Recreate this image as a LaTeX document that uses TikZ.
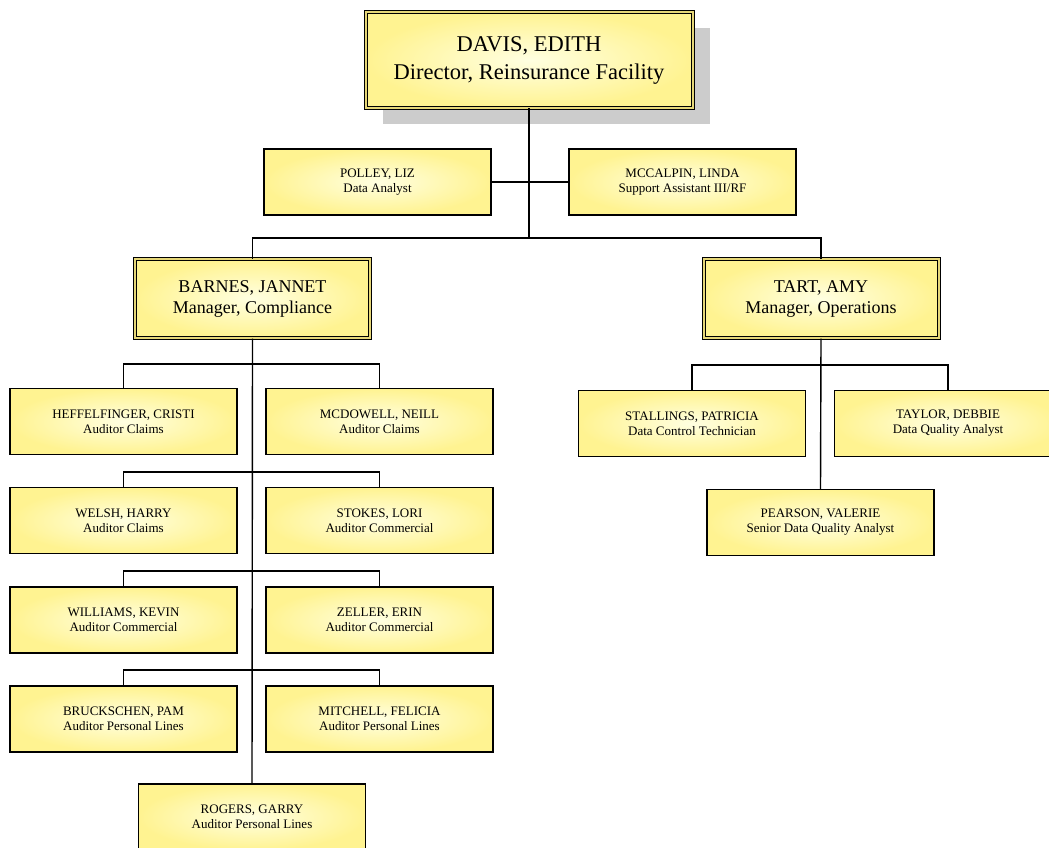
\documentclass[tikz,border=0pt]{standalone}
\usepackage{fontspec}
\setmainfont{Liberation Serif}
\usetikzlibrary{shadows}
\definecolor{boxedge}{RGB}{255,243,145}
\definecolor{boxcore}{RGB}{255,255,225}
\definecolor{gapcol}{RGB}{230,215,120}
\tikzset{
  base/.style={rectangle, draw=black, inner color=boxcore, outer color=boxedge, align=center},
  small/.style={base, line width=1.3pt, minimum width=227pt, minimum height=66pt,
    font=\fontsize{13}{15}\selectfont},
  mgr/.style={base, line width=1pt, double=gapcol, double distance=2pt,
    minimum width=235pt, minimum height=79pt, font=\fontsize{18}{21}\selectfont},
  top/.style={base, line width=1pt, double=gapcol, double distance=2pt,
    minimum width=327pt, minimum height=96pt, font=\fontsize{22.5}{28}\selectfont,
    drop shadow={shadow xshift=17pt, shadow yshift=-16pt, fill=black!20, opacity=1}},
  conn/.style={draw=black, line width=1.4pt}
}
\begin{document}
\begin{tikzpicture}[x=1pt,y=-1pt]
\useasboundingbox (0,0) rectangle (1049,848);
% nodes
\node[top] (davis) at (529,60) {DAVIS, EDITH\\Director, Reinsurance Facility};
\node[small] (polley) at (377.5,182) {POLLEY, LIZ\\Data Analyst};
\node[small] (mccalpin) at (682.5,182) {MCCALPIN, LINDA\\Support Assistant III/RF};
\node[mgr] (barnes) at (252.5,298.5) {BARNES, JANNET\\Manager, Compliance};
\node[mgr] (tart) at (821,298.5) {TART, AMY\\Manager, Operations};
\node[small] (heff) at (123.5,421.5) {HEFFELFINGER, CRISTI\\Auditor Claims};
\node[small] (mcdowell) at (379.5,421.5) {MCDOWELL, NEILL\\Auditor Claims};
\node[small] (welsh) at (123.5,520.5) {WELSH, HARRY\\Auditor Claims};
\node[small] (stokes) at (379.5,520.5) {STOKES, LORI\\Auditor Commercial};
\node[small] (williams) at (123.5,620) {WILLIAMS, KEVIN\\Auditor Commercial};
\node[small] (zeller) at (379.5,620) {ZELLER, ERIN\\Auditor Commercial};
\node[small] (bruck) at (123.5,719) {BRUCKSCHEN, PAM\\Auditor Personal Lines};
\node[small] (mitchell) at (379.5,719) {MITCHELL, FELICIA\\Auditor Personal Lines};
\node[small] (rogers) at (252,817) {ROGERS, GARRY\\Auditor Personal Lines};
\node[small] (stallings) at (692,423.5) {STALLINGS, PATRICIA\\Data Control Technician};
\node[small] (taylor) at (948,423.5) {TAYLOR, DEBBIE\\Data Quality Analyst};
\node[small] (pearson) at (820.5,522.5) {PEARSON, VALERIE\\Senior Data Quality Analyst};
% junction coordinates
\coordinate (j0) at (529,238);
\coordinate (j1) at (252,364);
\coordinate (j2) at (252,472);
\coordinate (j3) at (252,571);
\coordinate (j4) at (252,670);
\coordinate (j5) at (820.5,365);
% connectors
\draw[conn] (davis.south) -- (j0);
\draw[conn] (polley.east) -- (mccalpin.west);
\draw[conn] (barnes.north) |- (j0) -| (tart.north);
\draw[conn] (barnes.south) -- (rogers.north);
\draw[conn] (heff.north) |- (j1) -| (mcdowell.north);
\draw[conn] (welsh.north) |- (j2) -| (stokes.north);
\draw[conn] (williams.north) |- (j3) -| (zeller.north);
\draw[conn] (bruck.north) |- (j4) -| (mitchell.north);
\draw[conn] (tart.south) -- (pearson.north);
\draw[conn] (stallings.north) |- (j5) -| (taylor.north);
\end{tikzpicture}
\end{document}
